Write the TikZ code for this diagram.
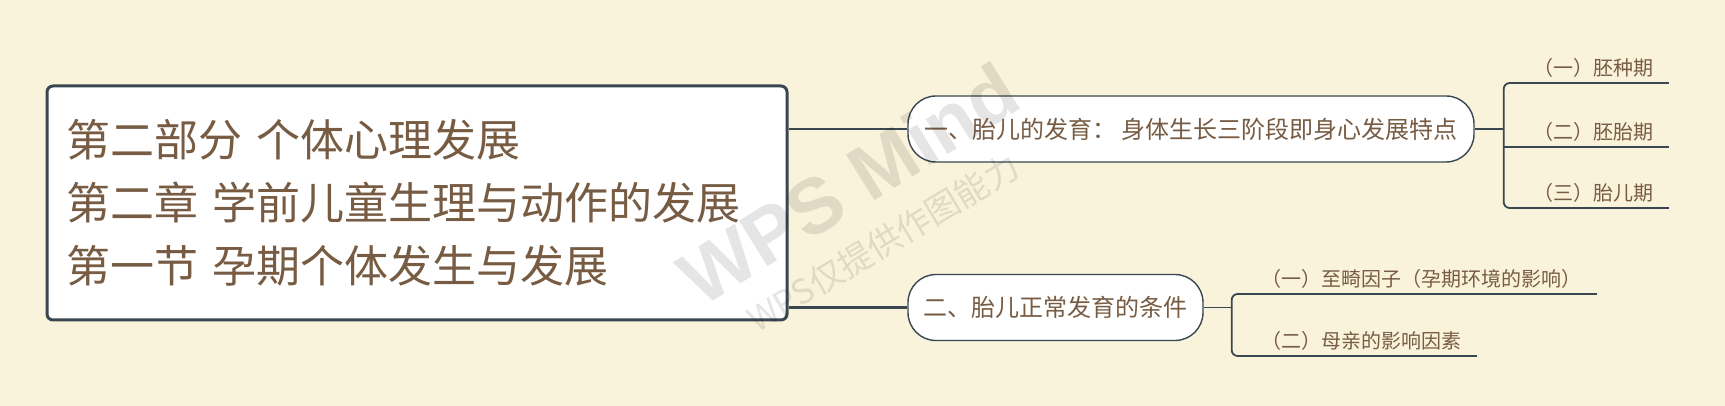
\documentclass[tikz,border=0pt]{standalone}
\usepackage{fontspec}
\setmainfont{Noto Sans CJK SC}
\newfontfamily\wmfont{Liberation Sans}
\definecolor{paper}{HTML}{FAF3DC}
\definecolor{ink}{HTML}{775C43}
\definecolor{edge}{HTML}{3A4650}
\begin{document}
\begin{tikzpicture}[x=0.5pt,y=-0.5pt,
	every node/.style={text=ink,inner sep=0pt},
	root/.style={draw=edge,line width=1.5pt,fill=white,rounded corners=3pt,
	minimum width=370pt,minimum height=117pt,text width=351pt,align=left,
	font=\fontsize{22}{31.5}\selectfont},
	topic/.style={draw=edge,line width=0.7pt,fill=white,rounded corners=14pt,
	minimum height=33pt,font=\fontsize{12}{14}\selectfont},
	leaf/.style={anchor=south west,inner xsep=7.5pt,inner ysep=3.7pt,text depth=0pt,
	font=\fontsize{10}{12}\selectfont},
	stem/.style={draw=edge,line width=1.4pt},
	twig/.style={draw=edge,line width=0.9pt,rounded corners=3pt},
	wmark/.style={text=black,opacity=0.1}]
\useasboundingbox[fill=paper] (0,0) rectangle (1725,406);
\node[root] (root) at (417,203) {第二部分 个体心理发展\\第二章 学前儿童生理与动作的发展\\第一节 孕期个体发生与发展};
\node[topic,minimum width=283pt] (fetus) at (1191,129) {一、胎儿的发育： 身体生长三阶段即身心发展特点};
\node[topic,minimum width=147.5pt] (cond) at (1055.5,307.5) {二、胎儿正常发育的条件};
\node[leaf] (p1) at (1518,83) {（一）胚种期};
\node[leaf] (p2) at (1518,147) {（二）胚胎期};
\node[leaf] (p3) at (1518,208) {（三）胎儿期};
\node[leaf] (c1) at (1246,294) {（一）至畸因子（孕期环境的影响）};
\node[leaf] (c2) at (1246,356) {（二）母亲的影响因素};
\draw[stem] (root.east |- fetus.west) -- (fetus.west);
\draw[stem] (root.east |- cond.west) -- (cond.west);
\draw[twig] (fetus.east) -- ++(29,0) coordinate (fork1);
\draw[twig] (p1.south east) -- (fork1 |- p1.south) -- (fork1 |- p3.south) -- (p3.south east);
\draw[twig] (fork1 |- p2.south) -- (p2.south east);
\draw[twig] (cond.east) -- ++(28,0) coordinate (fork2);
\draw[twig] (c1.south east) -- (fork2 |- c1.south) -- (fork2 |- c2.south) -- (c2.south east);
\node[wmark,rotate=32,font=\wmfont\bfseries\fontsize{39}{39}\selectfont] (wps) at (848,184) {WPS Mind};
\node[wmark,rotate=31,font=\fontsize{17}{17}\selectfont] (wpsnote) at (883,243) {WPS仅提供作图能力};
\end{tikzpicture}
\end{document}
